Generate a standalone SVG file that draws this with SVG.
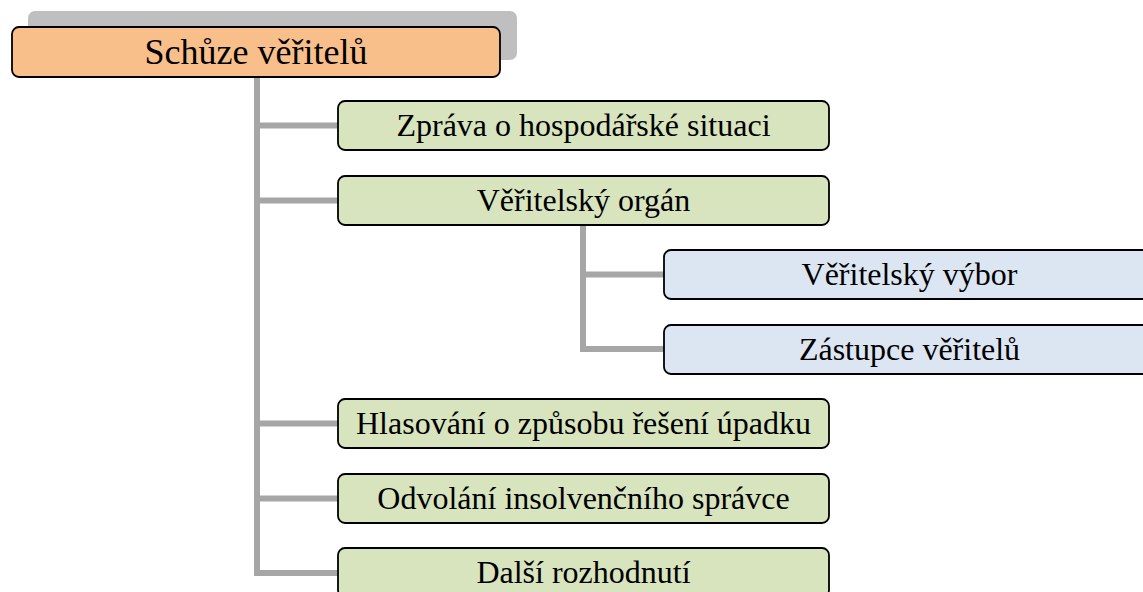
<svg xmlns="http://www.w3.org/2000/svg" width="1143" height="592" viewBox="0 0 1143 592">
<style>
.box{stroke:#000;stroke-width:1.8}
.root{fill:#f8bf8b}
.g{fill:#d7e4bd}
.b{fill:#dce6f2}
.conn{fill:none;stroke:#a6a6a6;stroke-width:6;stroke-linejoin:miter;stroke-linecap:butt}
text{font-family:"Liberation Serif","Times New Roman",serif;fill:#000;text-anchor:middle}
.t{font-size:32px}
.tt{font-size:36px}
</style>
<rect width="1143" height="592" fill="#fff"/>
<g id="connectors">
<path class="conn" d="M257,77 V573 H338"/>
<path class="conn" d="M257,125.5 H338 M257,200.5 H338 M257,423.5 H338 M257,498.5 H338"/>
<path class="conn" d="M583,225 V349 H664"/>
<path class="conn" d="M583,274.5 H664"/>
</g>
<g id="root">
<rect x="28" y="11" width="489" height="49" rx="7" fill="#bfbfbf"/>
<rect class="box root" x="12" y="27" width="488" height="50" rx="7"/>
<text class="tt" x="256" y="64">Schůze věřitelů</text>
</g>
<g id="n1">
<rect class="box g" x="338" y="101" width="491" height="49" rx="7"/>
<text class="t" x="583.5" y="136">Zpráva o hospodářské situaci</text>
</g>
<g id="n2">
<rect class="box g" x="338" y="176" width="491" height="49" rx="7"/>
<text class="t" x="583.5" y="211">Věřitelský orgán</text>
</g>
<g id="n21">
<rect class="box b" x="664" y="250" width="491" height="49" rx="7"/>
<text class="t" x="909.5" y="285">Věřitelský výbor</text>
</g>
<g id="n22">
<rect class="box b" x="664" y="325" width="491" height="49" rx="7"/>
<text class="t" x="909.5" y="360">Zástupce věřitelů</text>
</g>
<g id="n3">
<rect class="box g" x="338" y="399" width="491" height="49" rx="7"/>
<text class="t" x="583.5" y="434">Hlasování o způsobu řešení úpadku</text>
</g>
<g id="n4">
<rect class="box g" x="338" y="474" width="491" height="49" rx="7"/>
<text class="t" x="583.5" y="509">Odvolání insolvenčního správce</text>
</g>
<g id="n5">
<rect class="box g" x="338" y="548" width="491" height="49" rx="7"/>
<text class="t" x="583.5" y="583">Další rozhodnutí</text>
</g>
</svg>
